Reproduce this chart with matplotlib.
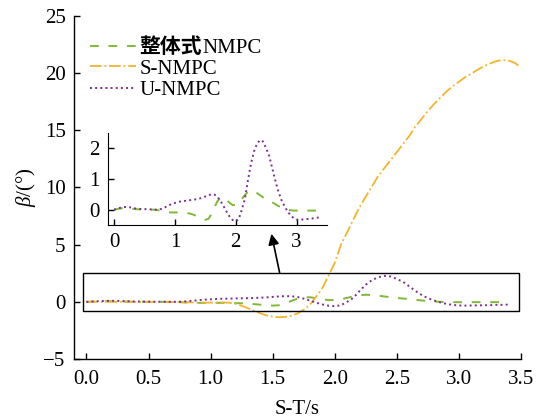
import matplotlib
matplotlib.use('Agg')
import matplotlib.pyplot as plt
from matplotlib.patches import Rectangle
import numpy as np

plt.rcParams['font.family'] = ['Liberation Serif', 'Noto Sans CJK SC']
plt.rcParams['mathtext.fontset'] = 'custom'
plt.rcParams['mathtext.it'] = 'Liberation Serif:italic'
plt.rcParams['mathtext.rm'] = 'Liberation Serif'
FS = 15
plt.rcParams['font.size'] = FS

# ---------------- data ----------------
series_names = ['整体式', 'S-NMPC', 'U-NMPC']
t_short = np.linspace(0, 3.4, 69)   # time grid for 整体式 / U-NMPC
t_long = np.linspace(0, 3.5, 71)    # time grid for S-NMPC

beta_whole = [0.00, 0.02, 0.04, 0.05, 0.05, 0.04, 0.03, 0.02, 0.01, 0.01,
              0.00, 0.00, 0.00, 0.00, -0.01, -0.03, -0.06, -0.08, -0.09, -0.09,
              -0.09, -0.09, -0.09, -0.10, -0.11, -0.13, -0.16, -0.20, -0.25, -0.30,
              -0.33, -0.30, -0.15, 0.08, 0.28, 0.39, 0.40, 0.32, 0.22, 0.15,
              0.15, 0.22, 0.35, 0.48, 0.58, 0.62, 0.60, 0.54, 0.47, 0.40,
              0.34, 0.29, 0.24, 0.18, 0.12, 0.07, 0.03, 0.00, -0.02, -0.03,
              -0.03, -0.03, -0.03, -0.03, -0.03, -0.03, -0.03, -0.03, -0.03]

beta_s = [0.00, 0.00, 0.00, 0.00, 0.00, 0.00, 0.00, 0.00, -0.01, -0.01,
          -0.01, -0.01, -0.01, -0.02, -0.02, -0.02, -0.03, -0.05, -0.06, -0.07,
          -0.07, -0.06, -0.05, -0.08, -0.18, -0.35, -0.55, -0.78, -1.00, -1.18,
          -1.30, -1.35, -1.32, -1.22, -1.02, -0.70, -0.25, 0.45, 1.20, 2.30,
          3.40, 5.00, 6.10, 7.20, 8.30, 9.20, 10.10, 11.00, 11.70, 12.40,
          13.10, 13.80, 14.50, 15.35, 16.00, 16.70, 17.30, 17.85, 18.40, 18.85,
          19.25, 19.65, 19.95, 20.30, 20.60, 20.85, 21.05, 21.15, 21.10, 20.90,
          20.50]

beta_u = [0.00, 0.03, 0.06, 0.08, 0.09, 0.08, 0.06, 0.04, 0.03, 0.02,
          0.02, 0.01, 0.01, 0.00, 0.00, 0.01, 0.04, 0.09, 0.14, 0.19,
          0.22, 0.25, 0.27, 0.28, 0.30, 0.31, 0.32, 0.34, 0.36, 0.39,
          0.43, 0.47, 0.50, 0.49, 0.42, 0.28, 0.11, -0.07, -0.23, -0.34,
          -0.38, -0.30, 0.00, 0.35, 0.95, 1.50, 1.90, 2.15, 2.27, 2.22,
          2.00, 1.75, 1.35, 0.95, 0.60, 0.32, 0.12, -0.05, -0.18, -0.27,
          -0.32, -0.33, -0.32, -0.31, -0.30, -0.29, -0.27, -0.26, -0.24]

main_xticks = [0.0, 0.5, 1.0, 1.5, 2.0, 2.5, 3.0, 3.5]
main_yticks = [-5, 0, 5, 10, 15, 20, 25]
inset_xticks = [0, 1, 2, 3]
inset_yticks = [0, 1, 2]

c_whole = '#7fb83a'
c_s = '#f2b431'
c_u = '#7b2f8f'

W, H = 543, 420
fig = plt.figure(figsize=(W / 100, H / 100), dpi=100)
ax = fig.add_axes([74 / W, 61 / H, 447 / W, 343 / H])

l1, = ax.plot(t_short, beta_whole, color=c_whole, lw=1.4, dashes=(4.5, 5))
l2, = ax.plot(t_long, beta_s, color=c_s, lw=1.3, linestyle='-.')
l3, = ax.plot(t_short, beta_u, color=c_u, lw=1.4, linestyle=':')

ax.set_xlim(-0.1, 3.5)
ax.set_ylim(-5, 25)
ax.set_xticks(main_xticks)
ax.set_xticklabels([f'{v:.1f}' for v in main_xticks])
ax.set_yticks(main_yticks)
ax.set_yticklabels(['\u22125' if v < 0 else str(v) for v in main_yticks])
ax.tick_params(axis='both', direction='in', length=4, width=1, labelsize=FS)
ax.tick_params(axis='x', pad=8)
ax.tick_params(axis='y', pad=6)
for s in ['top', 'right']:
    ax.spines[s].set_visible(False)
for s in ['left', 'bottom']:
    ax.spines[s].set_linewidth(1.0)
ax.set_xlabel('S-T/s', fontsize=FS, labelpad=8)
ax.set_ylabel(r'$\beta$/(°)', fontsize=FS, labelpad=4)

# zoom rectangle and arrow
ax.add_patch(Rectangle((-0.025, -0.8), 3.505, 3.35, fill=False,
                       edgecolor='black', lw=1.0, zorder=5))
ax.annotate('', xy=(1.49, 5.95), xytext=(1.556, 2.55),
            arrowprops=dict(arrowstyle='-|>', color='black', lw=1.2,
                            mutation_scale=16, shrinkA=0, shrinkB=0))

# legend
leg = ax.legend([l1, l2, l3], series_names, loc='upper left',
                bbox_to_anchor=(80 / W, 1 - 26 / H), bbox_transform=fig.transFigure,
                frameon=False, handlelength=2.2, handletextpad=0.15,
                labelspacing=0.08, borderpad=0, fontsize=FS)
t0 = leg.get_texts()[0]
t0.set_fontweight('bold')
t0.set_family(['Noto Sans CJK SC'])

# inset
axi = fig.add_axes([108 / W, (H - 225) / H, 219 / W, 92 / H])
axi.plot(t_short, beta_whole, color=c_whole, lw=1.4, dashes=(4.5, 5))
axi.plot(t_short, beta_u, color=c_u, lw=1.4, linestyle=':')
axi.set_xlim(-0.1, 3.5)
axi.set_ylim(-0.5, 2.5)
axi.set_xticks(inset_xticks)
axi.set_yticks(inset_yticks)
axi.tick_params(direction='in', length=4, width=1, labelsize=FS, pad=6)
for s in ['top', 'right']:
    axi.spines[s].set_visible(False)
axi.patch.set_alpha(0)

# append regular-weight "NMPC" right after the bold Chinese part of the first legend label
fig.canvas.draw()
r = fig.canvas.get_renderer()
bb = t0.get_window_extent(r)
bx, by = t0.get_transform().transform(t0.get_position())
fig.text(bb.x1 / W, by / H, 'NMPC', fontsize=FS, ha='left', va='baseline',
         family=['Liberation Serif'])

fig.savefig('out.png', dpi=100)
